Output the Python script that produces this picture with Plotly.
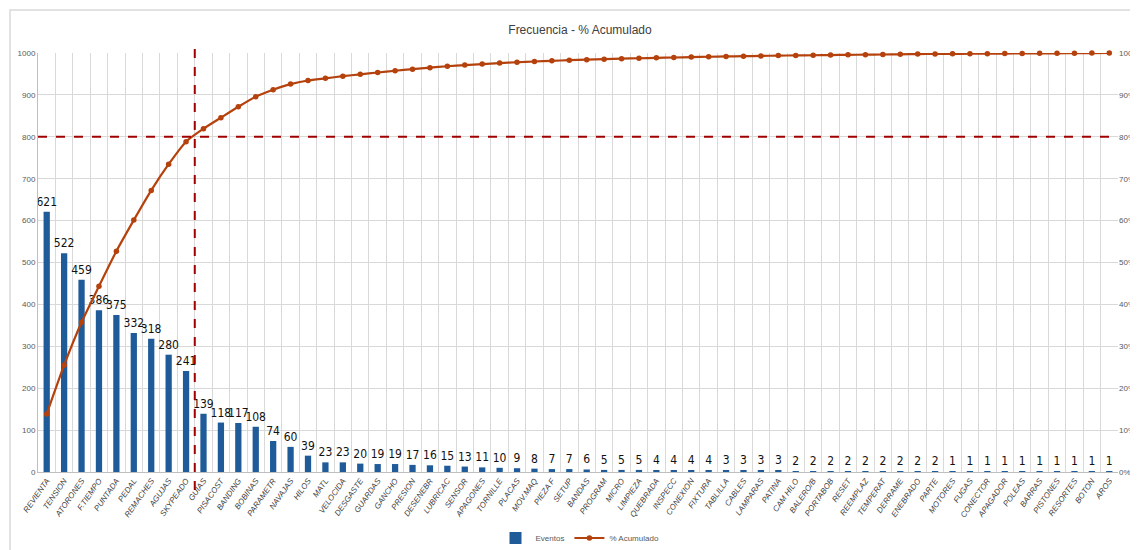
import plotly.graph_objects as go
import numpy as np

categories = ["REVIENTA", "TENSION", "ATORONES", "F.TIEMPO", "PUNTADA", "PEDAL", "REMACHES",
              "AGUJAS", "SKYPEADO", "GUIAS", "PISACOST", "BANDING", "BOBINAS", "PARAMETR",
              "NAVAJAS", "HILOS", "MATL", "VELOCIDA", "DESGASTE", "GUARDAS", "GANCHO",
              "PRESION", "DESENEBR", "LUBRICAC", "SENSOR", "APAGONES", "TORNILLE", "PLACAS",
              "MOV.MAQ", "PIEZA F", "SETUP", "BANDAS", "PROGRAM", "MICRO", "LIMPIEZA",
              "QUEBRADA", "INSPECC", "CONEXION", "FIXTURA", "TABLILLA", "CABLES", "LAMPARAS",
              "PATINA", "CAM HILO", "BALERO/B", "PORTABOB", "RESET", "REEMPLAZ", "TEMPERAT",
              "DERRAME", "ENEBRADO", "PARTE", "MOTORES", "FUGAS", "CONECTOR", "APAGADOR",
              "POLEAS", "BARRAS", "PISTONES", "RESORTES", "BOTON", "AROS"]
eventos = [621, 522, 459, 386, 375, 332, 318, 280, 241, 139, 118, 117, 108, 74, 60, 39,
           23, 23, 20, 19, 19, 17, 16, 15, 13, 11, 10, 9, 8, 7, 7, 6, 5, 5, 5, 4, 4, 4, 4,
           3, 3, 3, 3, 2, 2, 2, 2, 2, 2, 2, 2, 2, 1, 1, 1, 1, 1, 1, 1, 1, 1, 1]
left_ticks = [0, 100, 200, 300, 400, 500, 600, 700, 800, 900, 1000]
right_ticks = [0, 0.1, 0.2, 0.3, 0.4, 0.5, 0.6, 0.7, 0.8, 0.9, 1.0]
threshold = 800
cut_index = 8.5

acumulado = np.cumsum(eventos) / np.sum(eventos)

# page has an 8px body margin, so the figure is drawn 8px smaller
W, H = 1130, 542
ML, MR, MT, MB = 30, 20, 45, 78
pw, ph = W - ML - MR, H - MT - MB
BOTTOM = H - MB  # pixel y of the x axis

BAR_COLOR = "#1F5B98"
LINE_COLOR = "#B5410C"
DASH_COLOR = "#A00000"
GRID = "#D9D9D9"
TXT = "#595959"
NARROW = "Liberation Sans Narrow, Arial Narrow, DejaVu Sans Condensed, sans-serif"
SANS = "Liberation Sans, Arial, sans-serif"

fig = go.Figure()
fig.add_trace(go.Bar(
    x=categories, y=eventos, name="Eventos",
    marker=dict(color=BAR_COLOR, line=dict(width=0)),
    text=[str(v) for v in eventos], textposition="outside",
    textfont=dict(family=NARROW, size=12, color="#111111"),
    constraintext="none", cliponaxis=False,
))
fig.add_trace(go.Scatter(
    x=categories, y=acumulado, name="% Acumulado", yaxis="y2",
    mode="lines+markers",
    line=dict(color=LINE_COLOR, width=2.2, shape="spline", smoothing=0.6),
    marker=dict(color=LINE_COLOR, size=5.5, symbol="circle"),
    cliponaxis=False,
))

shapes = [
    dict(type="line", xref="paper", yref="y", x0=0, x1=1, y0=threshold, y1=threshold,
         line=dict(color=DASH_COLOR, width=2, dash="dash")),
    dict(type="line", xref="x", yref="paper", x0=cut_index, x1=cut_index,
         y0=(BOTTOM - 482) / ph, y1=(BOTTOM - 40) / ph,
         line=dict(color=DASH_COLOR, width=2, dash="dash")),
    dict(type="rect", xref="paper", yref="paper",
         x0=(2 - ML) / pw, x1=(W + 5 - ML) / pw,
         y0=(BOTTOM - H - 5) / ph, y1=(BOTTOM - 2) / ph,
         line=dict(color=GRID, width=1.5), fillcolor="rgba(0,0,0,0)", layer="below"),
]

fig.update_layout(
    width=W, height=H,
    margin=dict(l=ML, r=MR, t=MT, b=MB, autoexpand=False),
    paper_bgcolor="white", plot_bgcolor="white",
    bargap=0.64,
    showlegend=True,
    title=dict(text="Frecuencia - % Acumulado", x=572 / W, xanchor="center",
               y=1 - 22 / H, yanchor="middle",
               font=dict(family=SANS, size=12, color="#404040")),
    legend=dict(orientation="h", x=(572 - ML) / pw, xanchor="center",
                y=(BOTTOM - 530) / ph, yanchor="middle",
                font=dict(family=SANS, size=8, color=TXT),
                bgcolor="rgba(0,0,0,0)", itemwidth=30, tracegroupgap=0),
    xaxis=dict(type="category", tickson="boundaries", showgrid=True, gridcolor=GRID,
               gridwidth=1, showline=True, linecolor="#BFBFBF", ticks="", tickangle=-55,
               tickfont=dict(family=SANS, size=8, color="#404040", style="italic"),
               automargin=False, range=[-0.5, len(categories) - 0.5]),
    yaxis=dict(range=[0, 1000], tickvals=left_ticks, showgrid=True, gridcolor=GRID,
               gridwidth=1, zeroline=False, showline=True, linecolor="#BFBFBF",
               tickfont=dict(family=SANS, size=8, color=TXT),
               ticks="", automargin=False),
    yaxis2=dict(range=[0, 1], tickvals=right_ticks, tickformat=".0%", overlaying="y",
                side="right", showgrid=False, zeroline=False, showline=False,
                tickfont=dict(family=SANS, size=8, color=TXT),
                ticks="", automargin=False),
    shapes=shapes,
)

fig.write_html("out.html")
